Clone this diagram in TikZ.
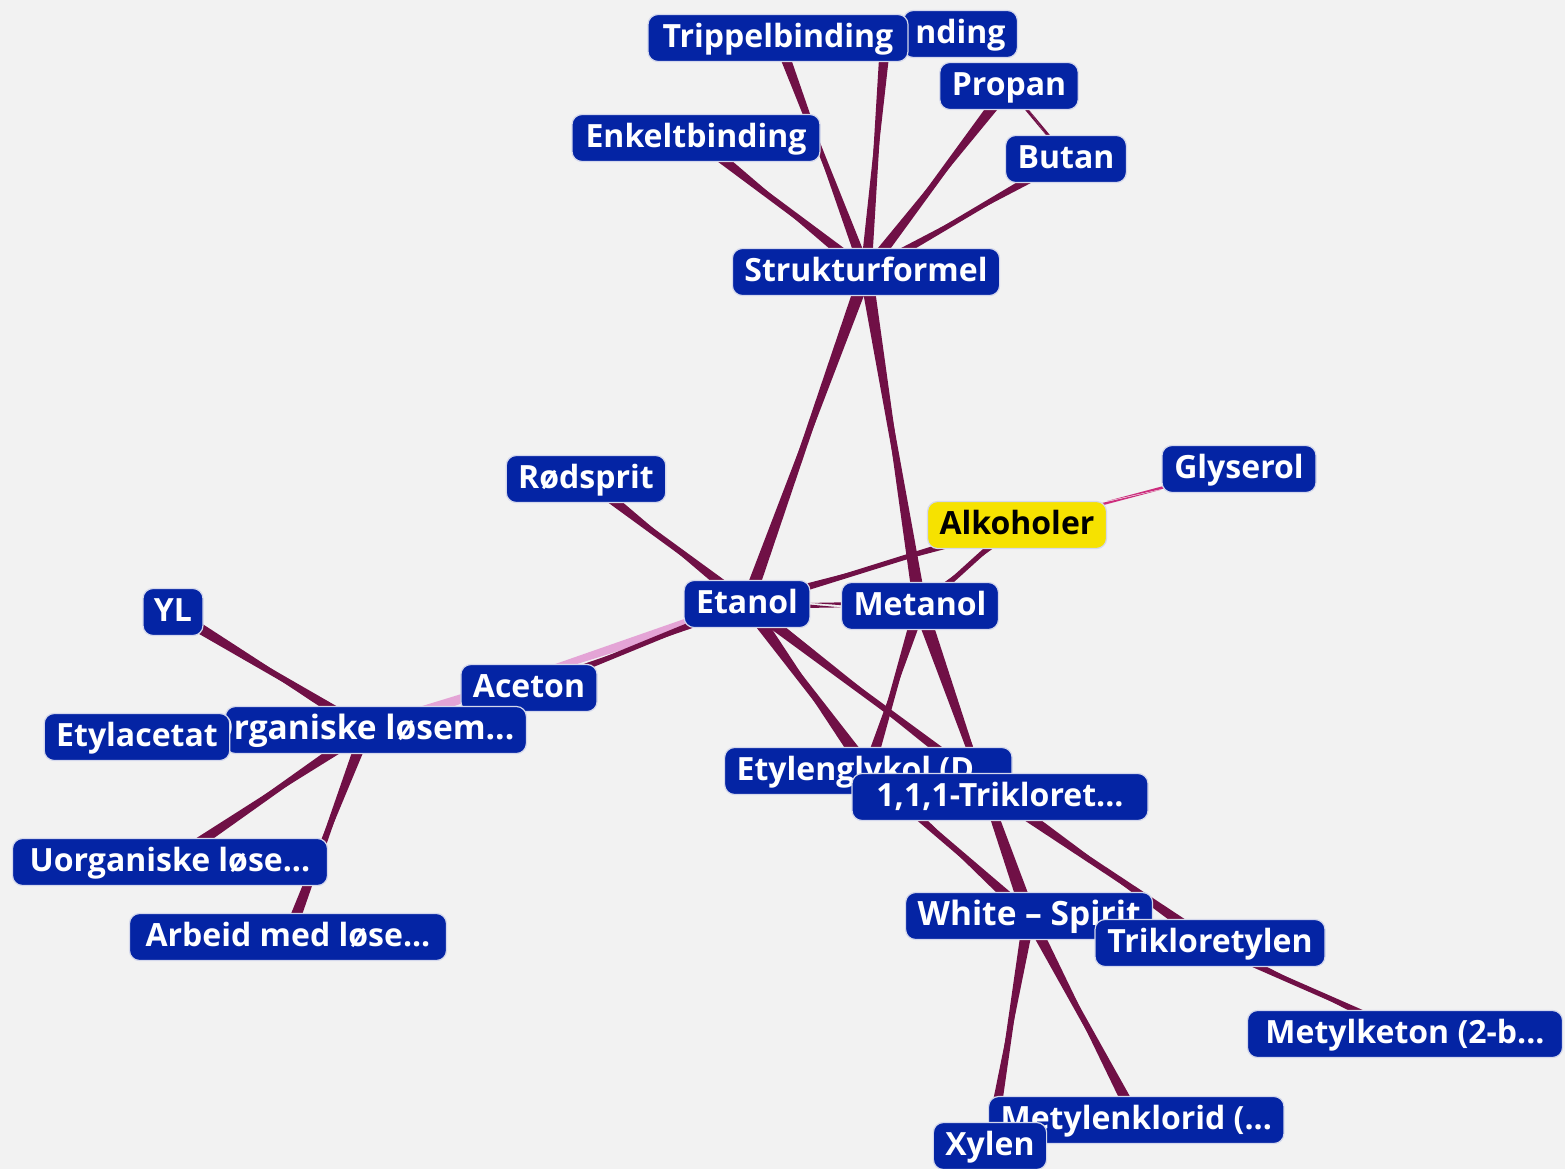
\documentclass[tikz,border=0pt]{standalone}
\usepackage{fontspec}
\setmainfont{Open Sans}
\usetikzlibrary{calc}
\pgfdeclarelayer{back}
\pgfdeclarelayer{edges}
\pgfsetlayers{back,edges,main}
\definecolor{nodeblue}{RGB}{4,36,164}
\definecolor{edgedark}{RGB}{112,16,70}
\definecolor{edgepink}{RGB}{228,164,214}
\definecolor{edgemagenta}{RGB}{205,45,125}
\definecolor{bgcol}{RGB}{242,242,242}
\definecolor{alkyellow}{RGB}{246,226,0}
\definecolor{nodeline}{RGB}{212,216,236}
\newcommand{\linkwedge}[4]{%
  \fill[#1] ($(#2)!#4!90:(#3)$) -- ($(#2)!#4!-90:(#3)$) -- (#3) -- cycle;
  \fill[#1] ($(#3)!#4!90:(#2)$) -- ($(#3)!#4!-90:(#2)$) -- (#2) -- cycle;
}
\tikzset{
  concept/.style={rectangle, rounded corners=10pt, fill=nodeblue, draw=nodeline,
    line width=1.2pt, text=white, font=\bfseries\fontsize{32}{38}\selectfont,
    minimum height=47pt, text height=24pt, text depth=5pt, inner ysep=0pt, inner xsep=12pt},
  hilite/.style={concept, fill=alkyellow, text=black},
}
\begin{document}
\begin{tikzpicture}[x=1pt,y=-1pt]
\begin{pgfonlayer}{back}
\fill[bgcol] (0,0) rectangle (1565,1169);
\end{pgfonlayer}
\useasboundingbox (0,0) rectangle (1565,1169);

% nodes
\node[concept, anchor=east] (dobb) at (1018,34) {nding};
\coordinate (dobbc) at (886,34);
\node[concept, minimum width=260pt] (trip) at (778,38) {Trippelbinding};
\node[concept, minimum width=134pt] (prop) at (1009,86) {Propan};
\node[concept, minimum width=248pt] (enk) at (696,138) {Enkeltbinding};
\node[concept, minimum width=112pt] (but) at (1066,159) {Butan};
\node[concept, minimum width=260pt] (struk) at (866,272) {Strukturformel};
\node[concept, minimum width=159pt] (rod) at (586,479) {Rødsprit};
\node[concept, minimum width=154pt] (gly) at (1239,469) {Glyserol};
\node[hilite, minimum width=178pt] (alk) at (1017,525) {Alkoholer};
\node[concept, minimum width=122pt] (eta) at (747,604) {Etanol};
\node[concept, minimum width=151pt] (met) at (920,606) {Metanol};
\node[concept, minimum width=60pt, inner xsep=6pt] (yl) at (173,612) {YL};
\node[concept, minimum width=136pt] (ace) at (529,688) {Aceton};
\node[concept, anchor=east, font=\bfseries\fontsize{33.5}{38}\selectfont] (org) at (527,730) {\makebox[277pt][r]{Organiske løsem...}};
\coordinate (orgc) at (366,730);
\node[concept, minimum width=181pt] (etyl) at (137,737) {Etylacetat};
\node[concept, minimum width=315pt] (uorg) at (170,862) {Uorganiske løse...};
\node[concept, minimum width=317pt] (arb) at (288,937) {Arbeid med løse...};
\node[concept, anchor=west] (glyk) at (724,771) {Etylenglykol (D...};
\node[concept, minimum width=296pt] (trik) at (1000,797) {1,1,1-Trikloret...};
\node[concept, anchor=west, font=\bfseries\fontsize{33.5}{38}\selectfont] (white) at (905,916) {White – Spirit};
\node[concept, minimum width=230pt] (trikl) at (1210,943) {Trikloretylen};
\node[concept, minimum width=315pt] (metk) at (1405,1034) {Metylketon (2-b...};
\node[concept, anchor=west] (mcl) at (988,1120) {Metylenklorid (...};
\node[concept, minimum width=110pt] (xyl) at (990,1146) {Xylen};

% connectors
\begin{pgfonlayer}{edges}
\linkwedge{edgedark}{struk}{trip}{5.5pt}
\linkwedge{edgedark}{struk}{dobbc}{5.5pt}
\linkwedge{edgedark}{struk}{enk}{6pt}
\linkwedge{edgedark}{struk}{prop}{6pt}
\linkwedge{edgedark}{struk}{but}{5pt}
\linkwedge{edgedark}{prop}{but}{3pt}
\linkwedge{edgedark}{struk}{eta}{6.5pt}
\linkwedge{edgedark}{struk}{met}{6.5pt}
\linkwedge{edgedark}{rod}{eta}{6pt}
\linkwedge{edgedark}{eta}{alk}{5pt}
\linkwedge{edgedark}{met}{alk}{5pt}
\linkwedge{edgedark}{eta}{met}{5pt}
\linkwedge{edgemagenta}{alk}{gly}{3pt}
\linkwedge{edgepink}{eta}{orgc}{6.5pt}
\linkwedge{edgedark}{eta}{ace}{5pt}
\linkwedge{edgedark}{eta}{glyk}{7pt}
\linkwedge{edgedark}{eta}{trik}{6pt}
\linkwedge{edgedark}{met}{glyk}{6pt}
\linkwedge{edgedark}{met}{white}{7pt}
\linkwedge{edgedark}{glyk}{white}{6pt}
\linkwedge{edgedark}{trik}{trikl}{6pt}
\linkwedge{edgedark}{white}{xyl}{6pt}
\linkwedge{edgedark}{white}{mcl}{6pt}
\linkwedge{edgedark}{trikl}{metk}{5pt}
\linkwedge{edgedark}{yl}{orgc}{6pt}
\linkwedge{edgedark}{orgc}{uorg}{6pt}
\linkwedge{edgedark}{orgc}{arb}{6pt}
\end{pgfonlayer}
\end{tikzpicture}
\end{document}
